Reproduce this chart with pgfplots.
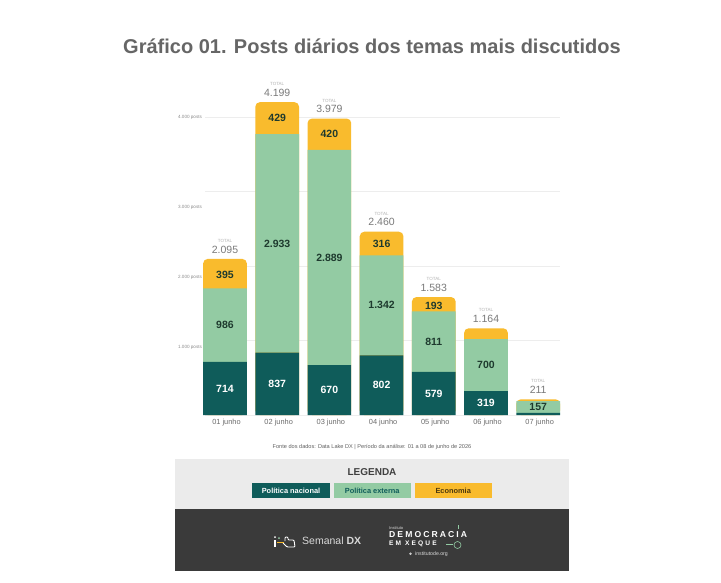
\documentclass[border=0pt]{standalone}
\usepackage{pgfplots}
\pgfplotsset{compat=1.18}
\usepackage{pgfplotstable}
\usepackage{fontspec}
\setmainfont{Liberation Sans}
\definecolor{nac}{HTML}{0F5C5A}
\definecolor{ext}{HTML}{93CBA3}
\definecolor{eco}{HTML}{F9BB2D}
\definecolor{foot}{HTML}{3A3A3A}
\definecolor{leg}{HTML}{EBEBEB}
\definecolor{titlec}{HTML}{666666}
\definecolor{txtd}{HTML}{1E3A2E}
\pgfplotstableread{
x nac ext total
0 714 986 2095
1 837 2933 4199
2 670 2889 3979
3 802 1342 2460
4 579 811 1583
5 319 700 1164
6 30 157 211
}\chartdata
\pgfplotsset{base/.style={
  at={(205pt,-415pt)},anchor=south west,scale only axis,
  width=355pt,height=320.35pt,
  xmin=-0.383,xmax=6.418,ymin=0,ymax=4300,
  clip=false,axis line style={draw=none},
  major tick length=0pt,
  bar width=43.7pt,
}}
\newcommand{\vlab}[4]{\node[font=\fontsize{10.5}{10.5}\selectfont\bfseries,text=#4] at (axis cs:#1,#2) {#3};}
\newcommand{\tlab}[3]{%
  \node[font=\fontsize{10.5}{10.5}\selectfont,text=black!52,anchor=center] at ([yshift=9.5pt]axis cs:#1,#2) {#3};
  \node[font=\fontsize{4.5}{4.5}\selectfont,text=black!30,anchor=center] at ([yshift=18pt]axis cs:#1,#2) {TOTAL};}
\begin{document}
\begin{tikzpicture}[x=1pt,y=1pt]
\fill[white] (0,0) rectangle (721,-583);
\node[font=\fontsize{20}{20}\selectfont\bfseries,text=titlec] at (372,-46) {Gráfico 01. Posts diários dos temas mais discutidos};
\begin{axis}[base,ybar,
  bar shift=0pt,
  ymajorgrids,grid style={draw=black!7,line width=0.8pt},
  ytick={0,1000,2000,3000,4000},yticklabels={},
  xtick={0,...,6},
  xticklabels={01 junho,02 junho,03 junho,04 junho,05 junho,06 junho,07 junho},
  xticklabel style={font=\fontsize{7.4}{7.4}\selectfont,text=black!58,xshift=1.5pt,yshift=-1pt},
]
\addplot[fill=eco,draw=none,rounded corners=4.5pt] table[x=x,y=total] {\chartdata};
\end{axis}
\begin{axis}[base,ybar stacked,bar shift=0pt,
  ytick=\empty,xtick=\empty]
\addplot[fill=nac,draw=none] table[x=x,y=nac] {\chartdata};
\addplot[fill=ext,draw=none] table[x=x,y=ext] {\chartdata};
\end{axis}
\begin{axis}[base,ytick=\empty,xtick=\empty]
\vlab{0}{357}{714}{white}\vlab{0}{1207}{986}{txtd}\vlab{0}{1880}{395}{txtd}
\vlab{1}{418}{837}{white}\vlab{1}{2303}{2.933}{txtd}\vlab{1}{3985}{429}{txtd}
\vlab{2}{335}{670}{white}\vlab{2}{2114}{2.889}{txtd}\vlab{2}{3769}{420}{txtd}
\vlab{3}{401}{802}{white}\vlab{3}{1473}{1.342}{txtd}\vlab{3}{2302}{316}{txtd}
\vlab{4}{290}{579}{white}\vlab{4}{984}{811}{txtd}\vlab{4}{1470}{193}{txtd}
\vlab{5}{160}{319}{white}\vlab{5}{669}{700}{txtd}
\vlab{6}{108}{157}{txtd}
\tlab{0}{2095}{2.095}\tlab{1}{4199}{4.199}\tlab{2}{3979}{3.979}\tlab{3}{2460}{2.460}
\tlab{4}{1583}{1.583}\tlab{5}{1164}{1.164}\tlab{6}{211}{211}
\end{axis}
% y labels, as placed in the reference
\foreach \t/\y in {4.000 posts/117.5,3.000 posts/207.3,2.000 posts/277,1.000 posts/347.3}
  \node[font=\fontsize{4.6}{4.6}\selectfont,text=black!45,anchor=center] at (190,-\y) {\t};
\node[font=\fontsize{5.6}{5.6}\selectfont,text=black!62] at (372,-447.3) {Fonte dos dados: Data Lake DX | Período da análise: 01 a 08 de junho de 2026};
% legend
\fill[leg] (175,-459) rectangle (569,-509);
\node[font=\fontsize{10}{10}\selectfont\bfseries,text=black!75] at (372,-472) {LEGENDA};
\fill[nac] (252,-483) rectangle (330,-498);
\fill[ext] (333.5,-483) rectangle (411,-498);
\fill[eco] (414.5,-483) rectangle (492,-498);
\node[font=\fontsize{7.4}{7.4}\selectfont\bfseries,text=white] at (291,-490.5) {Política nacional};
\node[font=\fontsize{7.4}{7.4}\selectfont\bfseries,text=nac] at (372.2,-490.5) {Política externa};
\node[font=\fontsize{7.4}{7.4}\selectfont\bfseries,text=black!70!eco] at (453.2,-490.5) {Economia};
% footer
\fill[foot] (175,-509) rectangle (569,-571);
\draw[white,line width=0.9pt,rounded corners=1pt] (285,-541) -- (285,-537) -- (288,-537) -- (288,-540) -- (294,-540) -- (295,-547) -- (287,-547) -- (283,-543);
\fill[white] (274,-540) rectangle (276,-547);
\fill[white] (275,-537) circle (1);
\draw[eco,line width=0.9pt] (277,-542) -- (284,-542);
\fill[ext] (279,-538) circle (1);
\node[font=\fontsize{10.5}{10.5}\selectfont,text=white!85!black,anchor=west,inner sep=0pt] at (302,-541) {Semanal \textbf{DX}};
\node[font=\fontsize{4}{4}\selectfont,text=white!85!black,anchor=west,inner sep=0pt] at (389,-528) {Instituto};
\node[font=\fontsize{8.6}{8.6}\selectfont\bfseries,text=white,anchor=west,inner sep=0pt] at (389,-535) {\addfontfeature{LetterSpace=24}DEMOCRACIA};
\node[font=\fontsize{6.6}{6.6}\selectfont\bfseries,text=white,anchor=west,inner sep=0pt] at (389,-544) {\addfontfeature{LetterSpace=32}EM XEQUE};
\draw[ext,line width=0.4pt] (446,-544) -- (453,-544);
\draw[ext,line width=0.6pt] (457.5,-545) circle (3.5);
\draw[ext,line width=0.9pt] (458,-525) -- (458,-529);
\node[font=\fontsize{5.2}{5.2}\selectfont,text=white!85!black,anchor=west,inner sep=0pt] at (415,-553.7) {institutode.org};
\fill[white!80!black] (410.5,-553.7) circle (1.4);
\end{tikzpicture}
\end{document}
